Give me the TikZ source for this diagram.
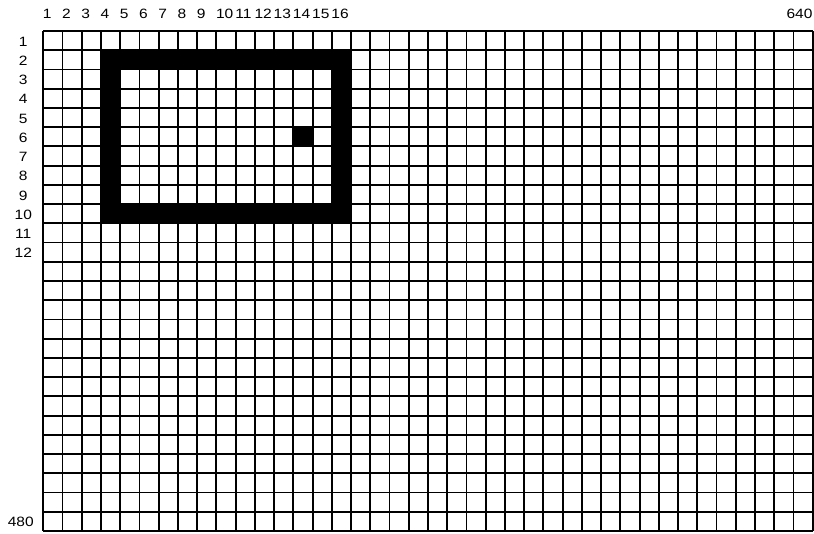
\documentclass[tikz,border=0pt]{standalone}
\usepackage{fontspec}
\setmainfont{Liberation Sans}
\newfontfamily\lblfont[FakeStretch=1.15]{Liberation Sans}
\begin{document}
\begin{tikzpicture}[x=1pt,y=-1pt,
  lbl/.style={inner sep=0pt, font=\lblfont\fontsize{13.5}{13.5}\selectfont},
  gridline/.style={line width=1.9pt, black}]
\useasboundingbox (0,0) rectangle (814,533);
\begin{scope}[shift={(43.3,31)}, x=19.235pt, y=-19.23pt]
  % black frame (columns 4-16, rows 2-10)
  \fill[black, even odd rule] (3,1) rectangle (16,10) (4,2) rectangle (15,9);
  % black pixel at column 14, row 6
  \fill[black] (13,5) rectangle (14,6);
  % grid
  \foreach \c in {0,...,40}
    \draw[gridline] (\c,0) -- (\c,26);
  \foreach \r in {0,...,26}
    \draw[gridline] (0,\r) -- (40,\r);
  % column labels
  \foreach \i in {1,...,16}
    \node[lbl, anchor=west] (c\i) at (\i-1.03, -0.89) {\i};
  \node[lbl, anchor=east] (c640) at (40, -0.89) {640};
  % row labels
  \foreach \i in {1,...,12}
    \node[lbl] (r\i) at (-1.04, \i-0.45) {\i};
  \node[lbl] (r480) at (-1.17, 25.55) {480};
\end{scope}
\end{tikzpicture}
\end{document}
